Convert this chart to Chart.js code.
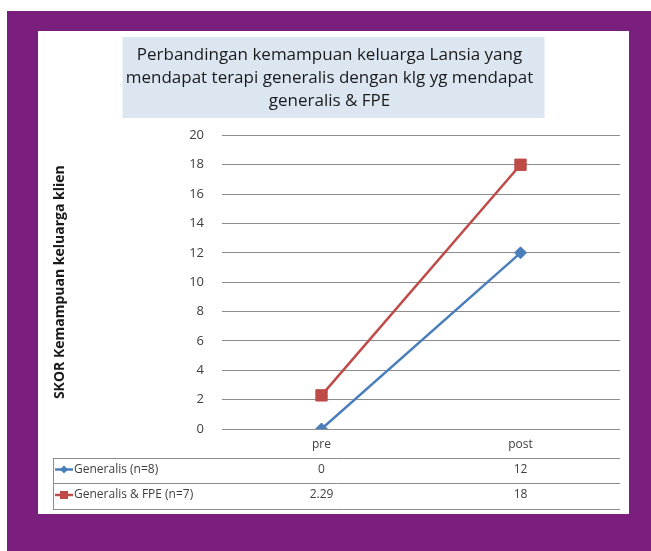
<!DOCTYPE html>
<html>
<head>
<meta charset="utf-8">
<script src="https://cdn.jsdelivr.net/npm/chart.js@4"></script>
<style>
  html, body { margin: 0; padding: 0; background: #fff; }
  body { width: 651px; height: 551px; position: relative; overflow: hidden; }
  #frame { position: absolute; left: 7px; top: 11px; right: 0; bottom: 0; background: #7b1f7e; }
  #panel { position: absolute; left: 38px; top: 31px; width: 591px; height: 483px; background: #fff; }
  #panel canvas { display: block; }
</style>
</head>
<body>
<div id="frame"></div>
<div id="panel"><canvas id="chart" width="591" height="483"></canvas></div>
<script>
// data
const TITLE_LINES = [
  'Perbandingan kemampuan keluarga Lansia yang',
  'mendapat terapi generalis dengan klg yg mendapat',
  'generalis & FPE'
];
const Y_TITLE = 'SKOR Kemampuan keluarga klien';
const CATEGORIES = ['pre', 'post'];
const SERIES_NAMES = ['Generalis (n=8)', 'Generalis & FPE (n=7)'];
const GENERALIS = [0, 12];
const GENERALIS_FPE = [2.29, 18];
const TABLE_TEXT = [['0', '12'], ['2.29', '18']];

const BLUE = '#4a7ebb';
const RED = '#be4b48';
const FONT = '"Open Sans", "DejaVu Sans", sans-serif';

// light blue box behind the title
const titleBox = {
  id: 'titleBox',
  beforeDraw(chart) {
    const ctx = chart.ctx;
    const w = 422;
    const cx = chart.width / 2;
    ctx.save();
    ctx.fillStyle = '#dce6f1';
    ctx.fillRect(cx - w / 2, 6, w, 81);
    ctx.restore();
  }
};

// data table under the x axis (like Excel "data table with legend keys")
const dataTable = {
  id: 'dataTable',
  afterDraw(chart) {
    const ctx = chart.ctx;
    const x = chart.scales.x;
    const area = chart.chartArea;
    const left = 15;
    const rows = [427, 452, 478];
    ctx.save();
    ctx.strokeStyle = '#8c8c8c';
    ctx.lineWidth = 1;
    ctx.beginPath();
    rows.forEach(y => {
      ctx.moveTo(left, y + 0.5);
      ctx.lineTo(area.right, y + 0.5);
    });
    ctx.moveTo(left + 0.5, rows[0]);
    ctx.lineTo(left + 0.5, rows[2]);
    ctx.stroke();

    const colors = [BLUE, RED];
    ctx.font = '12px ' + FONT;
    ctx.textBaseline = 'middle';
    SERIES_NAMES.forEach((name, i) => {
      const cy = (rows[i] + rows[i + 1]) / 2 - 1;
      // legend key
      ctx.strokeStyle = colors[i];
      ctx.fillStyle = colors[i];
      ctx.lineWidth = 2.5;
      ctx.beginPath();
      ctx.moveTo(left + 2, cy);
      ctx.lineTo(left + 20, cy);
      ctx.stroke();
      ctx.beginPath();
      if (i === 0) {
        ctx.moveTo(left + 11, cy - 4);
        ctx.lineTo(left + 15, cy);
        ctx.lineTo(left + 11, cy + 4);
        ctx.lineTo(left + 7, cy);
        ctx.closePath();
      } else {
        ctx.rect(left + 7, cy - 4, 8, 8);
      }
      ctx.fill();

      ctx.fillStyle = '#404040';
      ctx.textAlign = 'left';
      ctx.fillText(name, left + 21, cy);
      ctx.textAlign = 'center';
      TABLE_TEXT[i].forEach((t, j) => {
        ctx.fillText(t, x.getPixelForValue(j), cy);
      });
    });
    ctx.restore();
  }
};

new Chart(document.getElementById('chart'), {
  type: 'line',
  data: {
    labels: CATEGORIES,
    datasets: [
      {
        label: SERIES_NAMES[0],
        data: GENERALIS,
        borderColor: BLUE,
        backgroundColor: BLUE,
        borderWidth: 2.5,
        pointStyle: 'rectRot',
        pointRadius: 6,
        pointBorderWidth: 1
      },
      {
        label: SERIES_NAMES[1],
        data: GENERALIS_FPE,
        borderColor: RED,
        backgroundColor: RED,
        borderWidth: 2.5,
        pointStyle: 'rect',
        pointRadius: 8,
        pointBorderWidth: 1
      }
    ]
  },
  options: {
    responsive: false,
    animation: false,
    layout: { padding: { left: 0, right: 8, top: 0, bottom: 0 } },
    plugins: {
      legend: { display: false },
      tooltip: { enabled: false },
      title: {
        display: true,
        text: TITLE_LINES,
        color: '#1a1a1a',
        font: { family: FONT, size: 17, weight: 'normal', lineHeight: 1.38 },
        padding: { top: 12, bottom: 22 }
      }
    },
    scales: {
      x: {
        offset: true,
        grid: { display: false },
        border: { display: false },
        ticks: { color: '#404040', font: { family: FONT, size: 12 }, padding: 0 },
        afterFit(scale) { scale.height = 85; }
      },
      y: {
        min: 0,
        max: 20,
        ticks: { stepSize: 2, color: '#404040', font: { family: FONT, size: 13 }, padding: 18 },
        grid: { color: '#8c8c8c', drawTicks: false },
        border: { display: false },
        title: {
          display: true,
          text: Y_TITLE,
          color: '#1a1a1a',
          font: { family: FONT, size: 14, weight: 'bold' },
          padding: { top: 14, bottom: 0 }
        },
        afterFit(scale) { scale.width = 184; }
      }
    }
  },
  plugins: [titleBox, dataTable]
});
</script>
</body>
</html>
